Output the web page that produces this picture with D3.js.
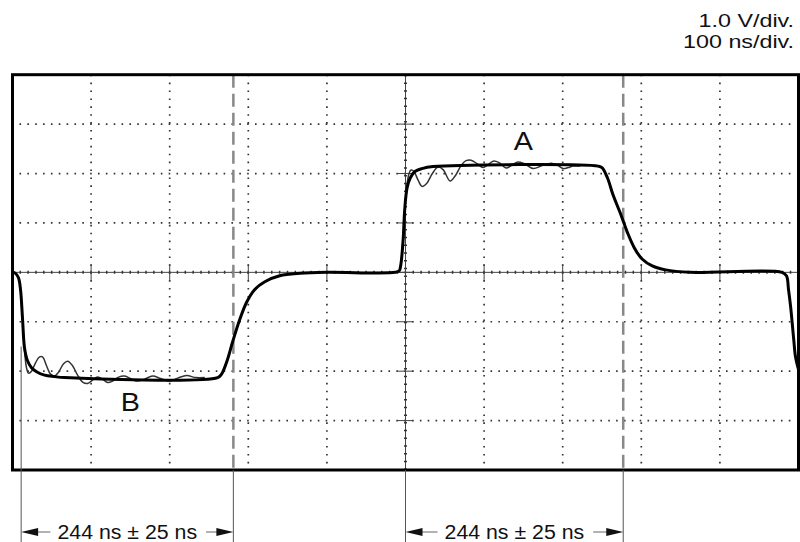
<!DOCTYPE html>
<html>
<head>
<meta charset="utf-8">
<script src="https://cdn.jsdelivr.net/npm/d3@7"></script>
<style>
  body { margin: 0; background: #fff; }
  text { font-family: "Liberation Sans", Arial, Helvetica, sans-serif; fill: #111; }
</style>
</head>
<body>
<svg id="chart" width="800" height="542"></svg>
<script>
// scope settings
var scaleLabels = ['1.0 V/div.', '100 ns/div.'];
var timeDivs = [0, 100, 200, 300, 400, 500, 600, 700, 800, 900, 1000];   // ns
var voltDivs = [-4, -3, -2, -1, 0, 1, 2, 3, 4];                           // V

// thick trace [ns, V]
var traceMain = [
  [0, 0], [3.8, -0.02], [7.6, -0.11], [10.2, -0.35], [12.7, -0.92], [15.3, -1.53],
  [19.1, -1.79], [24.2, -1.93], [30.6, -2.01], [40.8, -2.08], [53.5, -2.11], [66.2, -2.13],
  [261, -2.13], [266, -2.06], [273, -1.79], [280, -1.41], [289, -0.96], [298, -0.60],
  [308, -0.35], [321, -0.19], [340, -0.07], [366, -0.02], [400, 0],
  [487, 0], [492, 0.03], [494, 0.15], [497, 0.66], [499, 1.27], [502, 1.71], [506, 1.91],
  [512, 2.04], [521, 2.10], [535, 2.14], [745, 2.15], [750, 2.12], [757, 1.91], [764, 1.57],
  [773, 1.21], [782, 0.82], [791, 0.50], [801, 0.27], [814, 0.13], [831, 0.05], [862, 0],
  [979, 0], [984.7, -0.07], [987.3, -0.35], [990, -0.70], [994, -1.37], [996.2, -1.71], [1000, -1.97]
];

// thin trace, ringing after each edge [ns, V]
var ringB = [
  [10.2, -0.35], [12.7, -0.92], [15.3, -1.57], [17.8, -1.93], [20.4, -2.04], [24.2, -2.00],
  [29.3, -1.83], [34.4, -1.71], [38.2, -1.71], [43.3, -1.89], [48.4, -2.06], [53.5, -2.10],
  [58.6, -2.02], [65.0, -1.85], [70.1, -1.80], [76.4, -1.89], [82.8, -2.08], [89.2, -2.22],
  [95.5, -2.25], [101.9, -2.18], [108.3, -2.12], [114.6, -2.16], [121.0, -2.23], [127.4, -2.20],
  [135.0, -2.12], [142.7, -2.10], [150.3, -2.15], [158.0, -2.20], [166.9, -2.17], [178.3, -2.10],
  [188.5, -2.15], [200.0, -2.20], [210.2, -2.14], [221.7, -2.09], [233.1, -2.13], [244.6, -2.13]
];
var ringA = [
  [494.3, 0.15], [496.8, 0.66], [499.4, 1.31], [501.9, 1.77], [504.5, 2.00], [507.0, 2.07],
  [510.8, 2.04], [515.9, 1.87], [521.0, 1.74], [527.4, 1.81], [533.8, 1.99], [541.4, 2.13],
  [547.8, 2.08], [556.7, 1.85], [563.1, 1.95], [570.7, 2.16], [577.1, 2.26], [583.4, 2.27],
  [591.1, 2.20], [598.7, 2.12], [605.1, 2.18], [611.5, 2.25], [619.1, 2.22], [628.0, 2.11],
  [634.4, 2.16], [642.0, 2.23], [650.9, 2.20], [662.4, 2.10], [673.9, 2.16], [685.4, 2.21],
  [693.0, 2.17], [700.6, 2.10], [707.0, 2.12], [713.4, 2.15], [722.3, 2.15]
];

var traceLabels = [{name: 'A', t: 650, v: 2.48}, {name: 'B', t: 150, v: -2.81}];

// timing markers
var markerTimes = [281, 777];
var dimSpans = [[11, 281], [500, 777]];
var extTops = [[-1.5, -4], [-4, -4]];
var dimText = '244 ns \u00b1 25 ns';

var svg = d3.select('#chart');
var x = d3.scaleLinear().domain([0, 1000]).range([12.5, 798.5]);
var y = d3.scaleLinear().domain([-4, 4]).range([470, 74.7]);

// header
svg.selectAll('.hdr')
  .data(scaleLabels)
  .enter()
  .append('text')
  .attr('class', 'hdr')
  .attr('text-anchor', 'end')
  .attr('font-size', 18.5)
  .attr('transform', function(d, i) { return 'translate(794,' + (27 + i * 21) + ') scale(1.26,1)'; })
  .text(function(d) { return d; });

// dotted grid
var grid = svg.append('g');
grid.selectAll('.vg')
  .data(timeDivs.slice(1, -1).filter(function(d) { return d !== 500; }))
  .enter().append('line')
  .attr('x1', function(d) { return x(d); }).attr('x2', function(d) { return x(d); })
  .attr('y1', y(4)).attr('y2', y(-4))
  .attr('stroke', '#333').attr('stroke-width', 1.7)
  .attr('stroke-dasharray', '1.6,6.3');
grid.selectAll('.hg')
  .data(voltDivs.slice(1, -1).filter(function(d) { return d !== 0; }))
  .enter().append('line')
  .attr('y1', function(d) { return y(d); }).attr('y2', function(d) { return y(d); })
  .attr('x1', x(0) + 7).attr('x2', x(1000) - 6)
  .attr('stroke', '#333').attr('stroke-width', 1.7)
  .attr('stroke-dasharray', '1.6,6.25');

// centre axes with tick marks
grid.append('line')
  .attr('x1', x(0)).attr('x2', x(1000)).attr('y1', y(0)).attr('y2', y(0))
  .attr('stroke', '#444').attr('stroke-width', 1);
grid.append('line')
  .attr('x1', x(500)).attr('x2', x(500)).attr('y1', y(4)).attr('y2', y(-4))
  .attr('stroke', '#444').attr('stroke-width', 1);
grid.append('line')
  .attr('x1', x(0) + 7).attr('x2', x(1000)).attr('y1', y(0)).attr('y2', y(0))
  .attr('stroke', '#333').attr('stroke-width', 3)
  .attr('stroke-dasharray', '1.5,6.36');
grid.append('line')
  .attr('x1', x(500)).attr('x2', x(500)).attr('y1', y(4)).attr('y2', y(-4))
  .attr('stroke', '#333').attr('stroke-width', 3)
  .attr('stroke-dasharray', '1.5,6.22');
grid.selectAll('.xt')
  .data(timeDivs.slice(1, -1))
  .enter().append('line')
  .attr('x1', function(d) { return x(d); }).attr('x2', function(d) { return x(d); })
  .attr('y1', y(0) - 8).attr('y2', y(0) + 8)
  .attr('stroke', '#444').attr('stroke-width', 1);
grid.selectAll('.yt')
  .data(voltDivs.slice(1, -1))
  .enter().append('line')
  .attr('y1', function(d) { return y(d); }).attr('y2', function(d) { return y(d); })
  .attr('x1', x(500) - 8).attr('x2', x(500) + 8)
  .attr('stroke', '#444').attr('stroke-width', 1);

// dashed markers
svg.selectAll('.mk')
  .data(markerTimes)
  .enter().append('line')
  .attr('x1', function(d) { return x(d); }).attr('x2', function(d) { return x(d); })
  .attr('y1', y(4)).attr('y2', y(-4))
  .attr('stroke', '#888').attr('stroke-width', 2.5)
  .attr('stroke-dasharray', '13,6');

// traces
var line = d3.line()
  .x(function(d) { return x(d[0]); })
  .y(function(d) { return y(d[1]); })
  .curve(d3.curveCatmullRom.alpha(0.5));

svg.selectAll('.ring')
  .data([ringB, ringA])
  .enter().append('path')
  .attr('d', line)
  .attr('fill', 'none')
  .attr('stroke', '#333').attr('stroke-width', 1.5);

svg.append('path')
  .datum(traceMain)
  .attr('d', line)
  .attr('fill', 'none')
  .attr('stroke', '#000').attr('stroke-width', 3)
  .attr('stroke-linejoin', 'round');

svg.selectAll('.lbl')
  .data(traceLabels)
  .enter().append('text')
  .attr('text-anchor', 'middle')
  .attr('font-size', 25)
  .attr('transform', function(d) { return 'translate(' + x(d.t) + ',' + y(d.v) + ') scale(1.15,1)'; })
  .text(function(d) { return d.name; });

// frame
svg.append('rect')
  .attr('x', x(0)).attr('y', y(4))
  .attr('width', x(1000) - x(0)).attr('height', y(-4) - y(4))
  .attr('fill', 'none').attr('stroke', '#000').attr('stroke-width', 3);

// dimension lines
var dimY = 532;
var dims = svg.selectAll('.dim')
  .data(dimSpans)
  .enter().append('g');

dims.each(function(d, i) {
  var g = d3.select(this);
  var x0 = x(d[0]), x1 = x(d[1]);
  g.append('line')
    .attr('x1', x0).attr('x2', x0).attr('y1', y(extTops[i][0])).attr('y2', 542)
    .attr('stroke', '#555').attr('stroke-width', 1);
  g.append('line')
    .attr('x1', x1).attr('x2', x1).attr('y1', y(extTops[i][1])).attr('y2', 542)
    .attr('stroke', '#555').attr('stroke-width', 1);

  var mid = (x0 + x1) / 2;
  var t = g.append('text')
    .attr('text-anchor', 'middle')
    .attr('font-size', 20.5)
    .attr('transform', 'translate(' + mid + ',' + (dimY + 7) + ') scale(1.04,1)')
    .text(dimText);
  var half = t.node().getComputedTextLength() * 1.04 / 2;

  g.append('line')
    .attr('x1', x0 + 15).attr('x2', mid - half - 7).attr('y1', dimY).attr('y2', dimY)
    .attr('stroke', '#999').attr('stroke-width', 1.5);
  g.append('line')
    .attr('x1', mid + half + 9).attr('x2', x1 - 15).attr('y1', dimY).attr('y2', dimY)
    .attr('stroke', '#999').attr('stroke-width', 1.5);
  g.append('path')
    .attr('d', 'M' + x0 + ',' + dimY + 'L' + (x0 + 17) + ',' + (dimY - 4) + 'L' + (x0 + 17) + ',' + (dimY + 4) + 'Z')
    .attr('fill', '#111');
  g.append('path')
    .attr('d', 'M' + x1 + ',' + dimY + 'L' + (x1 - 17) + ',' + (dimY - 4) + 'L' + (x1 - 17) + ',' + (dimY + 4) + 'Z')
    .attr('fill', '#111');
});
</script>
</body>
</html>
